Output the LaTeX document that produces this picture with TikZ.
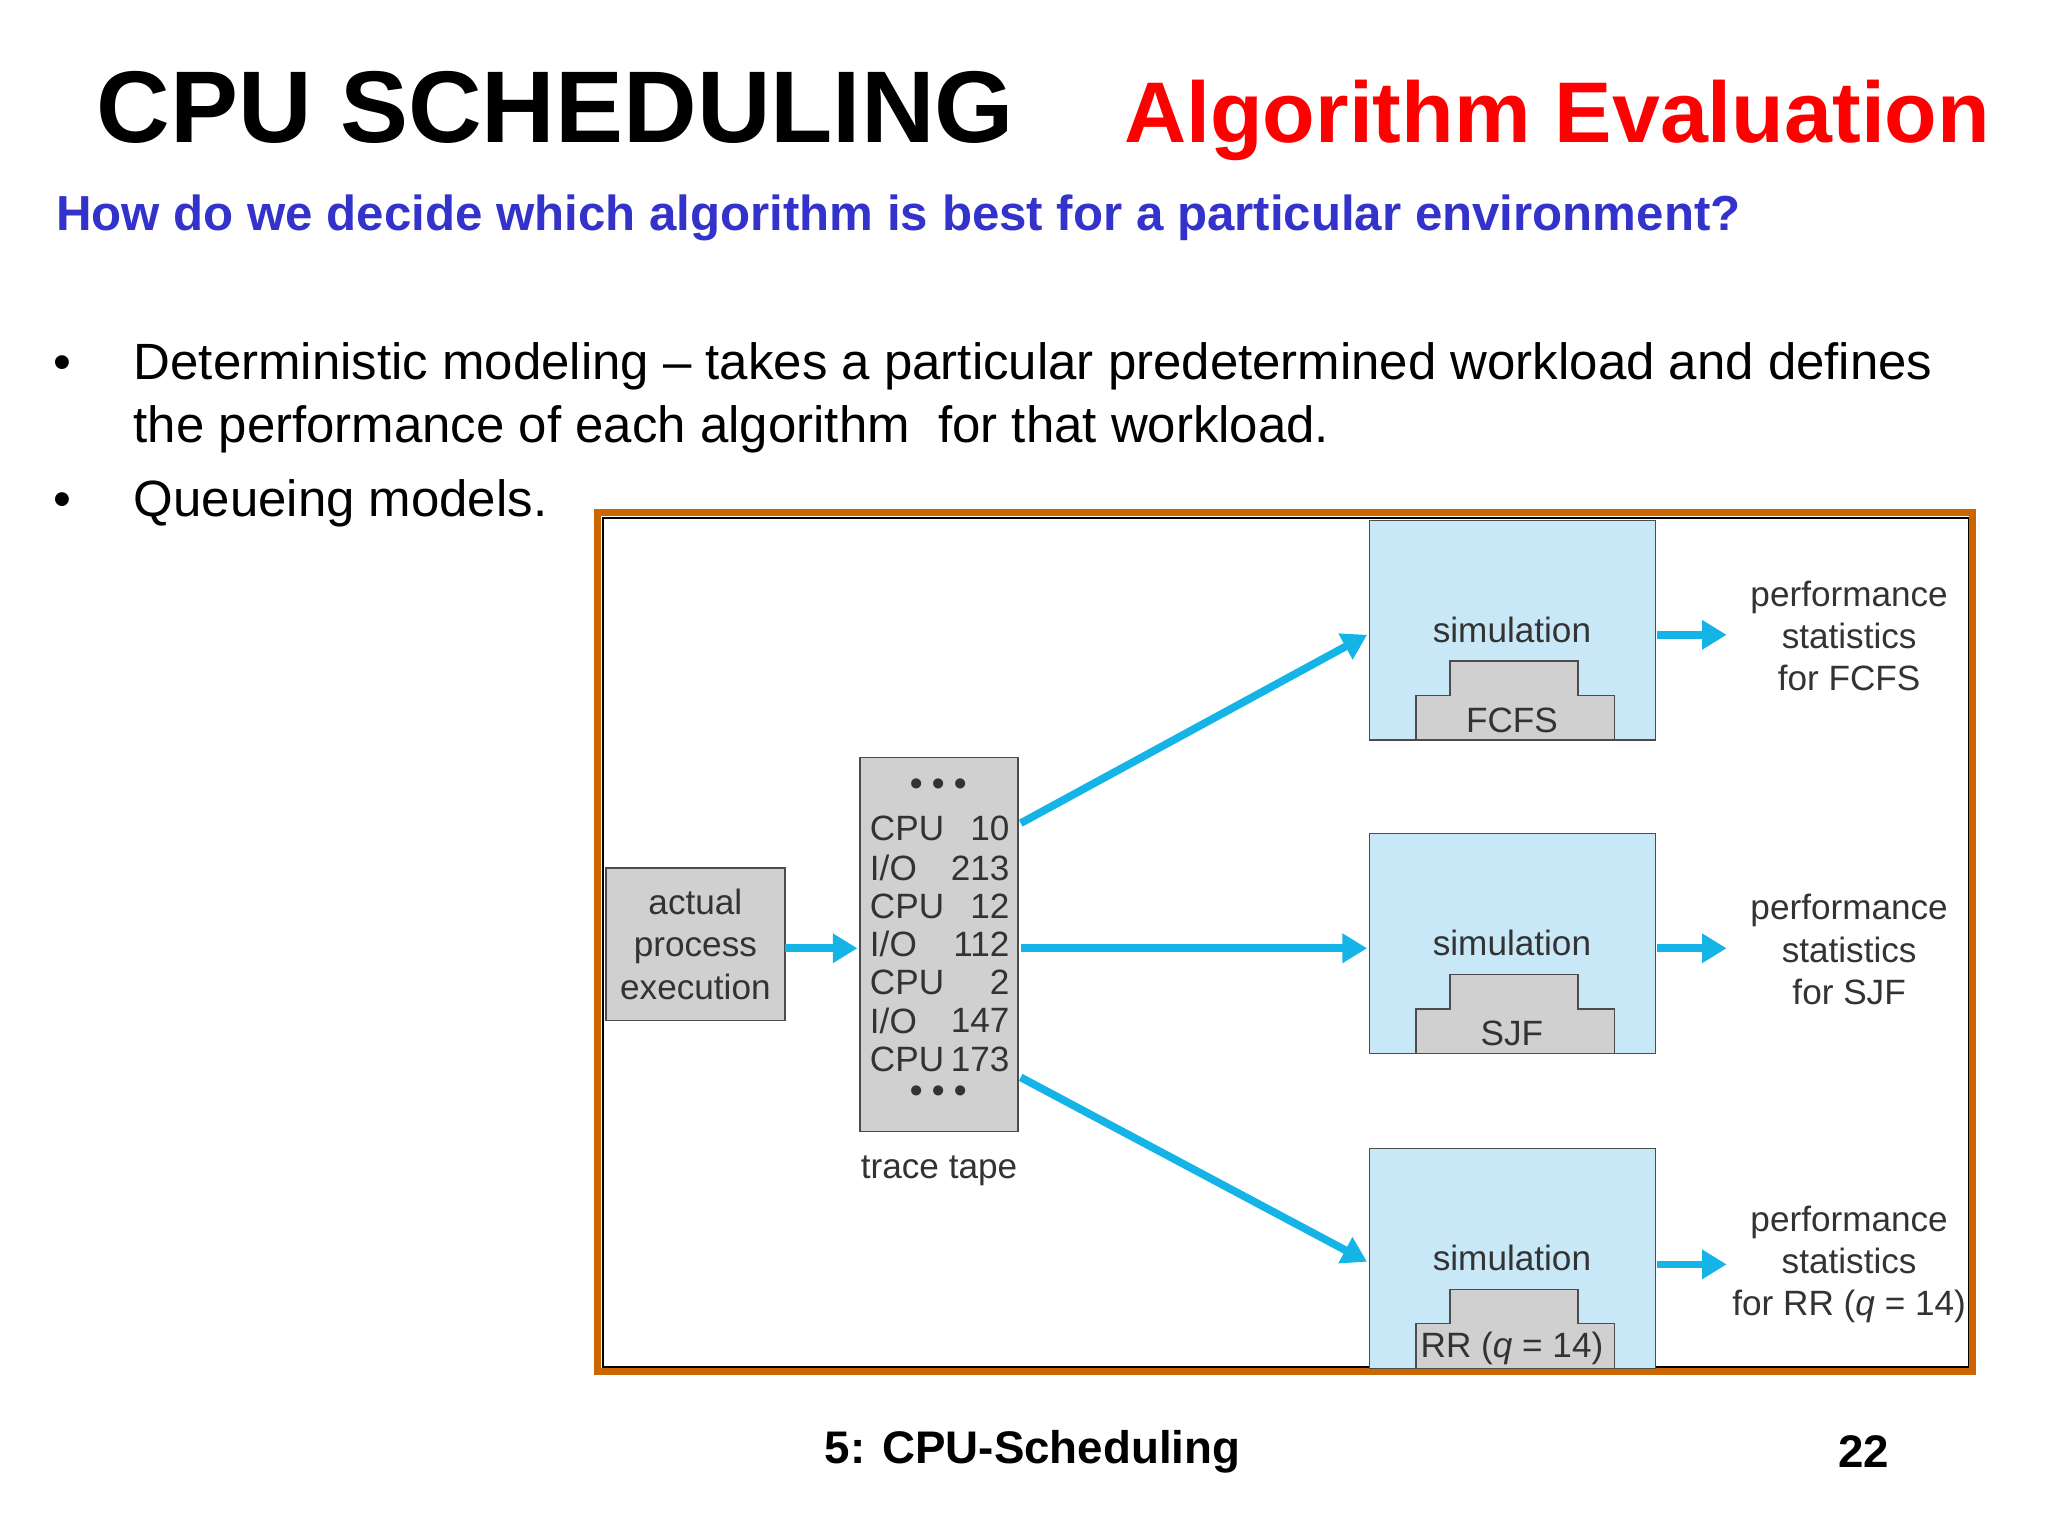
\documentclass[tikz,border=0pt]{standalone}
\usepackage{fontspec}
\setmainfont{Liberation Sans}
\usetikzlibrary{arrows.meta}
\definecolor{frameor}{RGB}{204,102,0}
\definecolor{qblue}{RGB}{51,51,204}
\definecolor{boxgray}{RGB}{208,208,208}
\definecolor{simblue}{RGB}{200,232,248}
\definecolor{arrblue}{RGB}{20,180,230}
\tikzset{
  gbox/.style={draw=black!70,fill=boxgray,line width=0.4pt},
  sbox/.style={draw=black!70,fill=simblue,line width=0.4pt},
  dtxt/.style={font=\fontsize{10}{11.5}\selectfont,text=black!80,inner sep=0pt},
  barrow/.style={draw=arrblue,line width=2.2pt,-{Triangle[length=7pt,width=8pt]}},
  btxt/.style={font=\fontsize{14.5}{17}\selectfont,anchor=base west,inner sep=0pt}
}
\begin{document}
\begin{tikzpicture}[x=0.01317cm,y=-0.01317cm]
\fill[white] (0,0) rectangle (1555,1166);
% titles
\node[anchor=base west,inner sep=0pt,font=\bfseries\fontsize{29}{34}\selectfont] (t1) at (73,108) {CPU SCHEDULING};
\node[anchor=base west,inner sep=0pt,text=red,font=\bfseries\fontsize{24.5}{30}\selectfont] (t2) at (853,108) {Algorithm Evaluation};
\node[anchor=base west,inner sep=0pt,text=qblue,font=\bfseries\fontsize{14}{17}\selectfont] (q) at (42,175) {How do we decide which algorithm is best for a particular environment?};
% bullets
\node[btxt] (b1d) at (40,288) {•};
\node[btxt] (b1) at (101,288) {Deterministic modeling – takes a particular predetermined workload and defines};
\node[btxt] (b1b) at (101,336) {the performance of each algorithm \ for that workload.};
\node[btxt] (b2d) at (40,392) {•};
\node[btxt] (b2) at (101,392) {Queueing models.};
% frame
\draw[black,line width=0.6pt] (458,393) rectangle (1495,1038);
\draw[frameor,line width=2pt] (454,389) rectangle (1498,1041);
% actual process
\draw[gbox] (460,659) rectangle (596,775);
\node[dtxt,align=center] (ape) at (528,717) {actual\\[0.5pt]process\\[0.5pt]execution};
\coordinate (apeE) at (596,720);
% trace tape
\draw[gbox] (653,575) rectangle (773,859);
\node[dtxt] (dt1) at (713,598) {\textbf{• • •}};
\foreach \a/\b/\y/\n in {CPU/10/629/1,{I/O}/213/659/2,CPU/12/688/3,{I/O}/112/717/4,CPU/2/746/5,{I/O}/147/775/6,CPU/173/804/7}{
  \node[dtxt,anchor=west] (tl\n) at (660,\y) {\a};
  \node[dtxt,anchor=east] (tr\n) at (767,\y) {\b};
}
\node[dtxt] (dt2) at (713,831) {\textbf{• • •}};
\node[dtxt] (tt) at (713,889) {trace tape};
\coordinate (ttW) at (651,720);
% simulation boxes
\foreach \i/\yt/\lab in {1/395/FCFS,2/633/SJF,3/872/{RR (\textit{q} = 14)}}{
  \draw[sbox] (1040,\yt) rectangle (1257,\yt+167);
  \draw[gbox] (1075,\yt+133) -- (1101,\yt+133) -- (1101,\yt+107) -- (1198,\yt+107) -- (1198,\yt+133) -- (1226,\yt+133) -- (1226,\yt+167) -- (1075,\yt+167) -- cycle;
  \node[dtxt] (sim\i) at (1148,\yt+83) {simulation};
  \node[dtxt] (alg\i) at (1148,\yt+152) {\lab};
}
% performance stats
\node[dtxt,align=center] (ps1) at (1404,483) {performance\\[0.5pt]statistics\\[0.5pt]for FCFS};
\node[dtxt,align=center] (ps2) at (1404,721) {performance\\[0.5pt]statistics\\[0.5pt]for SJF};
\node[dtxt,align=center] (ps3) at (1404,960) {performance\\[0.5pt]statistics\\[0.5pt]for RR (\textit{q} = 14)};
% arrows
\draw[barrow] (apeE) -- (ttW);
\coordinate (o1) at (775,625); \coordinate (e1) at (1038,482);
\coordinate (o2) at (775,720); \coordinate (e2) at (1038,720);
\coordinate (o3) at (775,818); \coordinate (e3) at (1038,958);
\draw[barrow] (o1) -- (e1);
\draw[barrow] (o2) -- (e2);
\draw[barrow] (o3) -- (e3);
\foreach \y/\n in {482/1,720/2,960/3}{
  \coordinate (s\n) at (1258,\y); \coordinate (p\n) at (1311,\y);
  \draw[barrow] (s\n) -- (p\n);
}
% footer
\node[inner sep=0pt,font=\bfseries\fontsize{13}{15}\selectfont] (f1) at (784,1102) {5: CPU-Scheduling};
\node[inner sep=0pt,font=\bfseries\fontsize{13}{15}\selectfont] (f2) at (1415,1102) {22};
\pgfresetboundingbox
\useasboundingbox (0,0) rectangle (1555,1166);
\end{tikzpicture}
\end{document}
